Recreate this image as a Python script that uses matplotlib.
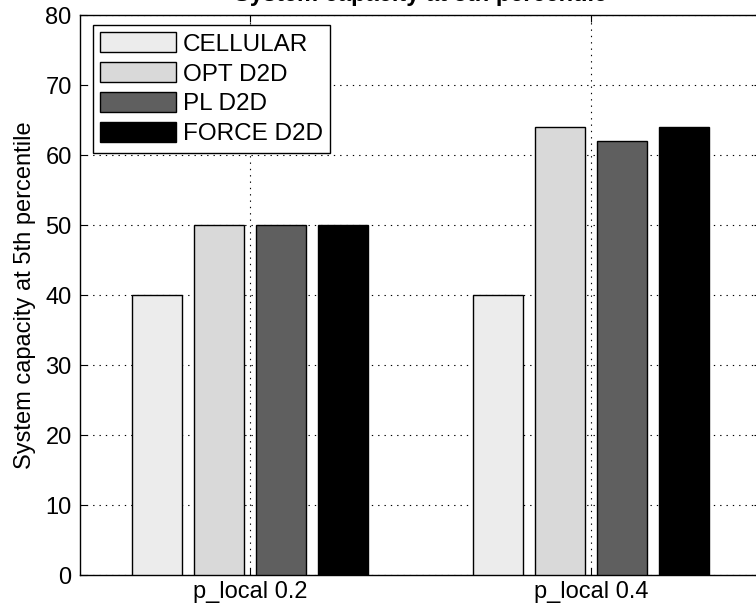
import matplotlib
matplotlib.use('Agg')
import matplotlib.pyplot as plt
import numpy as np

# values
groups = ['p_local 0.2', 'p_local 0.4']
series = ['CELLULAR', 'OPT D2D', 'PL D2D', 'FORCE D2D']
cellular = [40, 40]
opt_d2d = [50, 64]
pl_d2d = [50, 62]
force_d2d = [50, 64]
colors = ['#ececec', '#d9d9d9', '#5f5f5f', '#000000']

plt.rcParams['font.family'] = ['Liberation Sans', 'DejaVu Sans']
plt.rcParams['font.size'] = 17

fig = plt.figure(figsize=(7.56, 6.09), dpi=100)
# axes reach past the right edge, like the cropped original
ax = fig.add_axes([80 / 756, 34 / 609, 681 / 756, 560 / 609])

x = np.arange(1, len(groups) + 1)
slot = 0.182
width = 0.147
for i, (name, vals) in enumerate(zip(series, [cellular, opt_d2d, pl_d2d, force_d2d])):
    offs = (i - 1.5) * slot
    ax.bar(x + offs, vals, width, color=colors[i], edgecolor='black',
           linewidth=1.0, label=name, zorder=3)

ax.set_xlim(0.5, 2.5)
ax.set_ylim(0, 80)
ax.set_xticks(x)
ax.set_xticklabels(groups)
ax.set_yticks(np.arange(0, 81, 10))

ax.set_axisbelow(True)
ax.grid(True, color='black', linestyle=(0, (1.2, 4.5)), linewidth=0.8)

ax.tick_params(direction='in', length=5, width=0.8, top=True, right=True)
ax.tick_params(axis='y', pad=6)
ax.tick_params(axis='x', pad=4)
for s in ax.spines.values():
    s.set_linewidth(1.0)

ax.set_ylabel('System capacity at 5th percentile')
ax.yaxis.set_label_coords(-0.065, 0.5)

leg = ax.legend(loc='upper left', bbox_to_anchor=(0.019, 0.982),
                borderaxespad=0, fancybox=False, framealpha=1,
                edgecolor='black', handlelength=3.1, handleheight=0.875,
                handletextpad=0.3, labelspacing=0.27, borderpad=0.3,
                fontsize=17.5)
leg.get_frame().set_linewidth(1.0)

# title is mostly cut off at the top of the picture
fig.text(420 / 756, 1 - 6 / 609, 'System capacity at 5th percentile',
         ha='center', va='bottom', fontweight='bold', fontsize=17)

fig.savefig('out.png', dpi=100)
